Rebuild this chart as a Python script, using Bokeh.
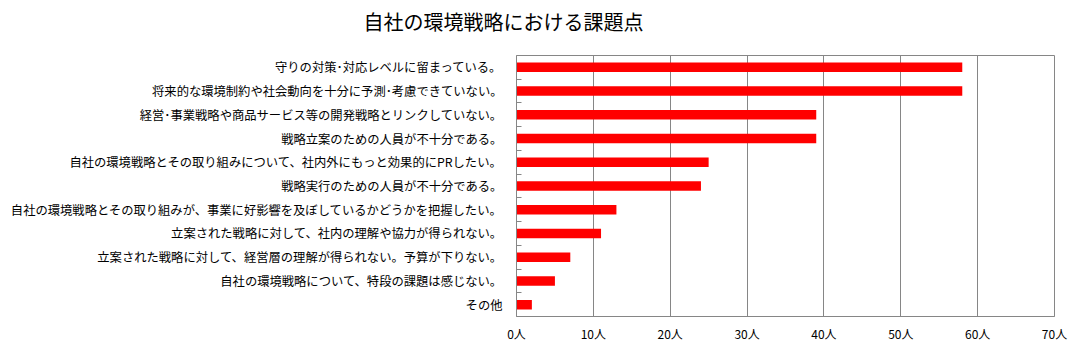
from bokeh.plotting import figure
from bokeh.models import Range1d, FixedTicker, Title, ColumnDataSource
from bokeh.embed import file_html
from bokeh.resources import INLINE

title_text = "自社の環境戦略における課題点"
categories = [
    "守りの対策･対応レベルに留まっている。",
    "将来的な環境制約や社会動向を十分に予測･考慮できていない。",
    "経営･事業戦略や商品サービス等の開発戦略とリンクしていない。",
    "戦略立案のための人員が不十分である。",
    "自社の環境戦略とその取り組みについて、社内外にもっと効果的にPRしたい。",
    "戦略実行のための人員が不十分である。",
    "自社の環境戦略とその取り組みが、事業に好影響を及ぼしているかどうかを把握したい。",
    "立案された戦略に対して、社内の理解や協力が得られない。",
    "立案された戦略に対して、経営層の理解が得られない。予算が下りない。",
    "自社の環境戦略について、特段の課題は感じない。",
    "その他",
]
values = [58, 58, 39, 39, 25, 24, 13, 11, 7, 5, 2]
x_ticks = [0, 10, 20, 30, 40, 50, 60, 70]
x_tick_labels = [f"{t}人" for t in x_ticks]

FONT = "Noto Sans CJK JP"
GRAY = "#868686"

n = len(categories)
centers = [i + 0.5 for i in range(n)]
boundaries = [float(i) for i in range(1, n)]

src = ColumnDataSource(dict(y=centers, v=values))

p = figure(width=1082, height=351, output_backend="svg", toolbar_location=None,
           title=None,
           x_range=Range1d(0, 70), y_range=Range1d(n, 0),
           min_border_left=516, min_border_right=28, min_border_top=55,
           min_border_bottom=35)

# spacer between title and plot frame (innermost "above" panel)
spacer = Title(text=" ", text_font_size="1px", standoff=17)
p.add_layout(spacer, "above")
title = Title(text=title_text, text_font=FONT, text_font_size="20px",
              text_font_style="normal", text_color="black",
              align="left", offset=-153, standoff=0)
p.add_layout(title, "above")

p.hbar(y="y", right="v", left=0, height=0.4, source=src,
       fill_color="#ff0000", line_color=None)

p.outline_line_color = GRAY
p.outline_line_width = 1

# x axis
p.xaxis.ticker = FixedTicker(ticks=x_ticks)
p.xaxis.major_label_overrides = {t: l for t, l in zip(x_ticks, x_tick_labels)}
p.xaxis.major_tick_line_color = None
p.xaxis.minor_tick_line_color = None
p.xaxis.axis_line_color = GRAY
p.xaxis.major_label_text_font = FONT
p.xaxis.major_label_text_font_size = "12px"
p.xaxis.major_label_text_color = "black"
p.xaxis.major_label_standoff = 2

# y axis
p.yaxis.ticker = FixedTicker(ticks=centers, minor_ticks=boundaries)
p.yaxis.major_label_overrides = {c: l for c, l in zip(centers, categories)}
p.yaxis.major_tick_line_color = None
p.yaxis.minor_tick_line_color = GRAY
p.yaxis.minor_tick_in = 5
p.yaxis.minor_tick_out = 0
p.yaxis.axis_line_color = GRAY
p.yaxis.major_label_text_font = FONT
p.yaxis.major_label_text_font_size = "12.3px"
p.yaxis.major_label_text_color = "black"
p.yaxis.major_label_standoff = 8

p.xgrid.ticker = FixedTicker(ticks=x_ticks)
p.xgrid.grid_line_color = GRAY
p.ygrid.grid_line_color = None

open("out.html", "w").write(file_html(p, INLINE))
